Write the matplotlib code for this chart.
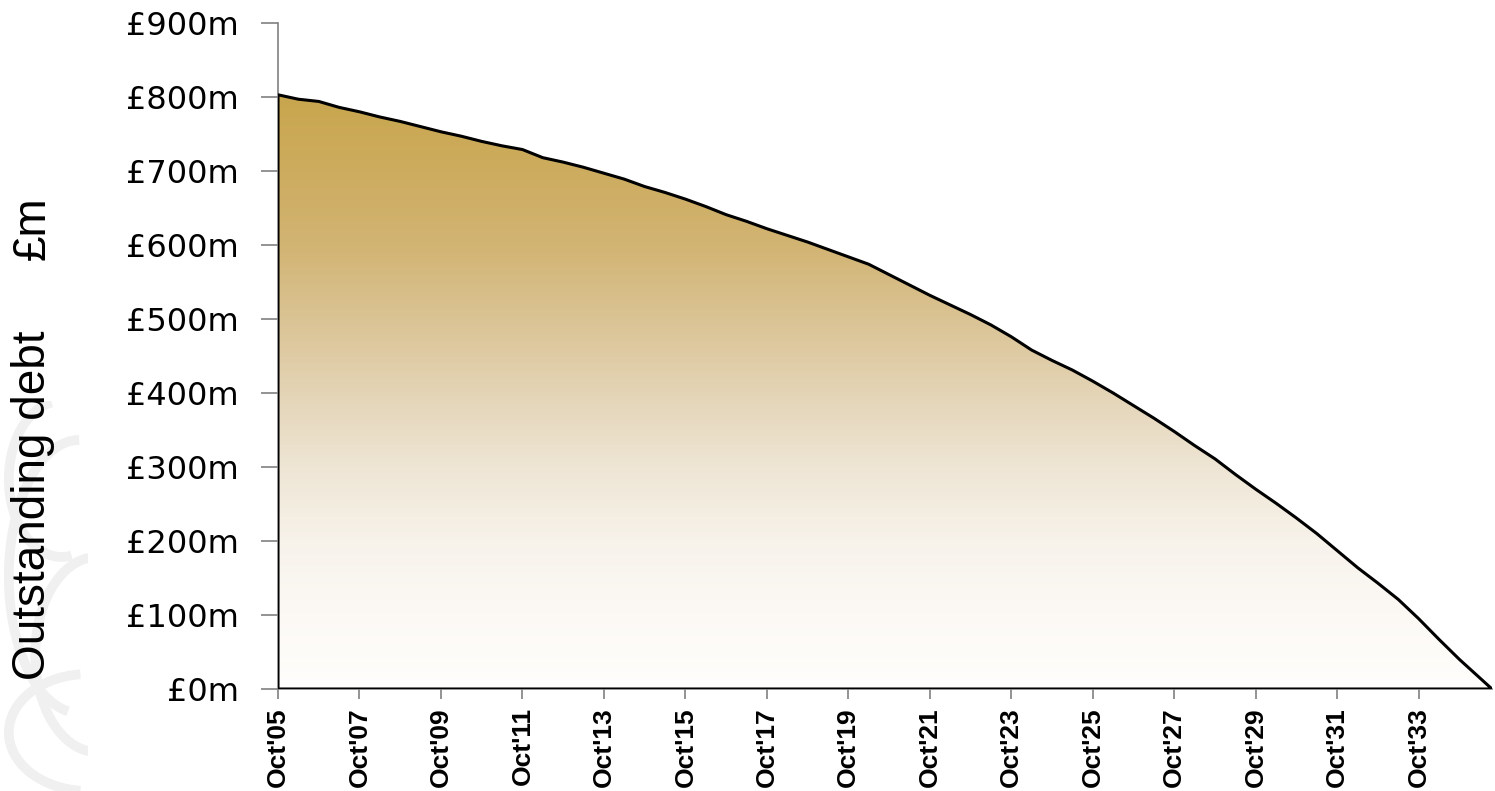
import numpy as np
import matplotlib
matplotlib.use("Agg")
import matplotlib.pyplot as plt
from matplotlib.colors import LinearSegmentedColormap
from matplotlib.patches import Arc

# ============================
# DATA (years after Oct 2005, outstanding debt in £m)
# ============================

years = [0.0, 0.5, 1.0, 1.5, 2.0, 2.5, 3.0, 3.5, 4.0, 4.5,
         5.0, 5.5, 6.0, 6.5, 7.0, 7.5, 8.0, 8.5, 9.0, 9.5,
         10.0, 10.5, 11.0, 11.5, 12.0, 12.5, 13.0, 13.5, 14.0, 14.5,
         15.0, 15.5, 16.0, 16.5, 17.0, 17.5, 18.0, 18.5, 19.0, 19.5,
         20.0, 20.5, 21.0, 21.5, 22.0, 22.5, 23.0, 23.5, 24.0, 24.5,
         25.0, 25.5, 26.0, 26.5, 27.0, 27.5, 28.0, 28.5, 29.0, 29.5, 29.8]

debt = [803, 797, 794, 786, 780, 773, 767, 760, 753, 747,
        740, 734, 729, 718, 712, 705, 697, 689, 679, 671,
        662, 652, 641, 632, 622, 613, 604, 594, 584, 574,
        560, 546, 532, 519, 506, 492, 476, 458, 444, 431,
        416, 400, 383, 366, 348, 329, 311, 290, 270, 251,
        231, 210, 187, 164, 143, 121, 95, 67, 40, 15, 0]

tick_years = list(range(0, 29, 2))
tick_labels = ["Oct'05", "Oct'07", "Oct'09", "Oct'11", "Oct'13", "Oct'15",
               "Oct'17", "Oct'19", "Oct'21", "Oct'23", "Oct'25", "Oct'27",
               "Oct'29", "Oct'31", "Oct'33"]

y_ticks = list(range(0, 1000, 100))
y_labels = ["£%dm" % v for v in y_ticks]

# ============================
# FIGURE
# ============================

fig = plt.figure(figsize=(14.95, 7.91), dpi=100)

# faint watermark on the left
wm = fig.add_axes([0, 0, 88 / 1495, 390 / 791])
wm.set_facecolor("#f8f8f8")
wm.set_xlim(0, 1)
wm.set_ylim(0, 1)
for cx, cy, w, h, a1, a2 in [(0.9, 0.55, 1.6, 0.7, 90, 250),
                             (1.1, 0.35, 1.4, 0.5, 100, 260),
                             (0.7, 0.8, 1.2, 0.4, 120, 300),
                             (1.0, 0.15, 1.8, 0.3, 120, 240)]:
    wm.add_patch(Arc((cx, cy), w, h, theta1=a1, theta2=a2,
                     color="#f0f0f0", lw=7))
wm.axis("off")
wm.patch.set_visible(True)

ax = fig.add_axes([278 / 1495, 102 / 791, (1492 - 278) / 1495, (689 - 23) / 791])
ax.patch.set_alpha(0)

# gradient fill
stops = [(0, (255, 254, 252)), (100, (252, 249, 245)), (200, (247, 242, 234)),
         (300, (238, 229, 212)), (400, (228, 212, 182)), (500, (218, 195, 148)),
         (600, (210, 180, 115)), (700, (205, 172, 95)), (803, (200, 166, 78))]
cmap = LinearSegmentedColormap.from_list(
    "debt", [(v / 803, tuple(c / 255 for c in col)) for v, col in stops])
grad = np.linspace(0, 1, 400).reshape(-1, 1)
img = ax.imshow(grad, cmap=cmap, aspect="auto", origin="lower",
                extent=[0, max(years), 0, max(debt)], zorder=1)

poly = ax.fill_between(years, debt, 0, facecolor="none",
                       edgecolor="black", linewidth=2.2, zorder=3)
img.set_clip_path(poly.get_paths()[0], transform=ax.transData)

ax.set_xlim(0, max(years))
ax.set_ylim(0, 900)

ax.set_yticks(y_ticks)
ax.set_yticklabels(y_labels, fontfamily="DejaVu Sans", fontsize=23)
ax.tick_params(axis="y", length=12, width=1.2, color="#808080", pad=16)

ax.set_xticks(tick_years)
ax.set_xticklabels(tick_labels, rotation=90, fontfamily="Liberation Sans",
                   fontweight="bold", fontsize=19)
ax.tick_params(axis="x", length=7, width=1.2, color="#808080", pad=6)

for side in ["top", "right"]:
    ax.spines[side].set_visible(False)
for side in ["left", "bottom"]:
    ax.spines[side].set_color("#808080")
    ax.spines[side].set_linewidth(1.2)

# y-axis title
fig.text(33 / 1495, 1 - 505 / 791, "Outstanding debt", rotation=90,
         ha="center", va="center", fontfamily="Liberation Sans", fontsize=33)
fig.text(33 / 1495, 1 - 228 / 791, "£m", rotation=90,
         ha="center", va="center", fontfamily="Liberation Sans", fontsize=33)

plt.savefig("out.png", dpi=100)
